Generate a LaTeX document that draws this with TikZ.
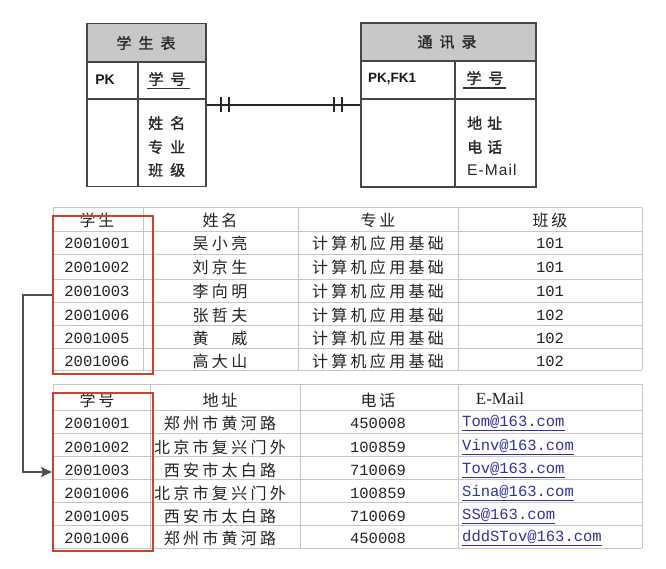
\documentclass[tikz,border=0pt]{standalone}
\usepackage{fontspec}
\setmainfont{Liberation Serif}
\newfontfamily\cjk{Noto Sans CJK SC}
\newfontfamily\cjkb[FakeBold=1.2]{Noto Sans CJK SC}
\newfontfamily\mono{Liberation Mono}
\newfontfamily\sans{Liberation Sans}
\usetikzlibrary{arrows.meta}

% set the characters of #2 with a gap of #1 between them
\makeatletter
\newcommand\spaced[2]{%
  \begingroup
  \edef\sp@list{#2}%
  \def\sp@sep{}%
  \def\sp@go{\@tfor\sp@c:=}%
  \expandafter\sp@go\sp@list\do{\sp@sep\sp@c\def\sp@sep{\hspace*{#1}}}%
  \endgroup}
\makeatother

\definecolor{txt}{RGB}{35,35,35}
\definecolor{gridgray}{RGB}{198,198,198}
\definecolor{hdrgray}{RGB}{200,200,200}
\definecolor{edge}{RGB}{70,70,70}
\definecolor{hlred}{RGB}{205,65,45}
\definecolor{mailblue}{RGB}{50,50,165}
\definecolor{linkgray}{RGB}{80,80,80}

\tikzset{
  entity/.style={draw=edge, line width=1.4, inner sep=0},
  divider/.style={draw=edge, line width=1.2},
  erline/.style={draw=black!85, line width=2},
  ertitle/.style={inner sep=0, text=black!85, font=\cjkb\fontsize{15}{15}\selectfont},
  erkey/.style={inner sep=0, text=black!90, font=\sans\bfseries\fontsize{14}{14}\selectfont},
  erfield/.style={inner sep=0, anchor=west, text=black!85, font=\cjkb\fontsize{15}{15}\selectfont},
  gridline/.style={draw=gridgray, line width=1},
  cell/.style={inner sep=0, text=txt, font=\cjk\fontsize{16}{16}\selectfont},
  num/.style={inner sep=0, text=txt, font=\mono\fontsize{15.5}{16}\selectfont},
  mail/.style={inner sep=0, anchor=west, text=mailblue, font=\mono\fontsize{15.5}{16}\selectfont},
  hilite/.style={draw=hlred, line width=2, inner sep=0, minimum width=100, minimum height=158},
  link/.style={draw=linkgray, line width=1.3, -{Stealth[length=11pt,width=10pt,inset=2pt]}},
}

\begin{document}
\begin{tikzpicture}[x=1pt,y=-1pt]
\useasboundingbox (0,0) rectangle (666,569);
\fill[white] (0,0) rectangle (666,569);

% ---------------- entity: 学生表 ----------------
\fill[hdrgray] (87,23.5) rectangle (206,62);
\node[entity, minimum width=119, minimum height=163] (stu) at (146.5,105) {};
\draw[divider] (87,62) -- (206,62);
\draw[divider] (87,99) -- (206,99);
\draw[divider] (138,62) -- (138,186.5);
\node[ertitle] (stuT) at (146,43) {\spaced{7pt}{学生表}};
\node[erkey] (stuPK) at (105,80) {PK};
\node[ertitle] (stuK) at (167,79) {\spaced{7pt}{学号}};
\draw[line width=1.4, black!80] (147,88.5) -- (190,88.5);
\node[erfield] (stuF1) at (148,123) {\spaced{7pt}{姓名}};
\node[erfield] (stuF2) at (148,147) {\spaced{7pt}{专业}};
\node[erfield] (stuF3) at (148,170) {\spaced{7pt}{班级}};

% ---------------- entity: 通讯录 ----------------
\fill[hdrgray] (361,23) rectangle (536,61);
\node[entity, minimum width=175, minimum height=164] (txl) at (448.5,105) {};
\draw[divider] (361,61) -- (536,61);
\draw[divider] (361,99) -- (536,99);
\draw[divider] (455,61) -- (455,187);
\node[ertitle] (txlT) at (447,42) {\spaced{7pt}{通讯录}};
\node[erkey, font=\sans\bfseries\fontsize{13.5}{14}\selectfont] (txlPK) at (392,79) {PK,FK1};
\node[ertitle] (txlK) at (485,78) {\spaced{7pt}{学号}};
\draw[line width=1.4, black!80] (463,88) -- (506,88);
\node[erfield] (txlF1) at (467,123) {\spaced{5pt}{地址}};
\node[erfield] (txlF2) at (467,147) {\spaced{5pt}{电话}};
\node[erfield, font=\sans\fontsize{15.5}{15}\selectfont] (txlF3) at (467,170) {\spaced{1.1pt}{E-Mail}};

% one-to-one relationship
\draw[erline] (stu.east) -- (txl.west);
\draw[erline] ([xshift=14pt]stu.east) +(0,-7.5) -- +(0,7.5);
\draw[erline] ([xshift=22pt]stu.east) +(0,-7.5) -- +(0,7.5);
\draw[erline] ([xshift=-26pt]txl.west) +(0,-7.5) -- +(0,7.5);
\draw[erline] ([xshift=-18pt]txl.west) +(0,-7.5) -- +(0,7.5);

% ---------------- table: students ----------------
\foreach \y in {208,232,255,279,302,325,348,370}
  \draw[gridline] (53,\y) -- (642,\y);
\foreach \x in {53,143,298,458,642}
  \draw[gridline] (\x,208) -- (\x,370);
\node[cell] (s0a) at (97,220) {\spaced{3pt}{学生}};
\node[cell] (s0b) at (220,220) {\spaced{3pt}{姓名}};
\node[cell] (s0c) at (378,220) {\spaced{3pt}{专业}};
\node[cell] (s0d) at (550,220) {\spaced{3pt}{班级}};
\foreach \id/\name/\cls/\y [count=\i] in
  {2001001/吴小亮/101/243, 2001002/刘京生/101/267, 2001003/李向明/101/291,
   2001006/张哲夫/102/315, 2001005/黄　威/102/338, 2001006/高大山/102/361}{
  \node[num]  (s\i a) at (97,\y)  {\id};
  \node[cell] (s\i b) at (220,\y) {\spaced{3.3pt}{\name}};
  \node[cell] (s\i c) at (378,\y) {\spaced{3.3pt}{计算机应用基础}};
  \node[num]  (s\i d) at (550,\y) {\cls};
}

% ---------------- table: contacts ----------------
\foreach \y in {384,410,433,456,479,502,525,548}
  \draw[gridline] (53,\y) -- (642,\y);
\foreach \x in {53,150,300,458,642}
  \draw[gridline] (\x,384) -- (\x,548);
\node[cell] (c0a) at (97,400) {\spaced{3pt}{学号}};
\node[cell] (c0b) at (220,400) {\spaced{3pt}{地址}};
\node[cell] (c0c) at (378,400) {\spaced{3pt}{电话}};
\node[inner sep=0, text=txt, font=\fontsize{17}{17}\selectfont] (c0d) at (500,399) {E-Mail};
\foreach \id/\addr/\tel/\mailaddr/\y [count=\i] in
  {2001001/郑州市黄河路/450008/Tom@163.com/423,
   2001002/北京市复兴门外/100859/Vinv@163.com/447,
   2001003/西安市太白路/710069/Tov@163.com/470,
   2001006/北京市复兴门外/100859/Sina@163.com/493,
   2001005/西安市太白路/710069/SS@163.com/516,
   2001006/郑州市黄河路/450008/dddSTov@163.com/538}{
  \node[num]  (c\i a) at (97,\y)  {\id};
  \node[cell] (c\i b) at (220,\y) {\spaced{3.3pt}{\addr}};
  \node[num]  (c\i c) at (378,\y) {\tel};
  \node[mail] (c\i d) at (462,\y) {\underline{\mailaddr}};
}

% ---------------- key columns and their link ----------------
\node[hilite] (key1) at (103,295) {};
\node[hilite] (key2) at (103,472) {};
\draw[link] (key1.west) -- ++(-29,0) |- (key2.west);

\end{tikzpicture}
\end{document}
